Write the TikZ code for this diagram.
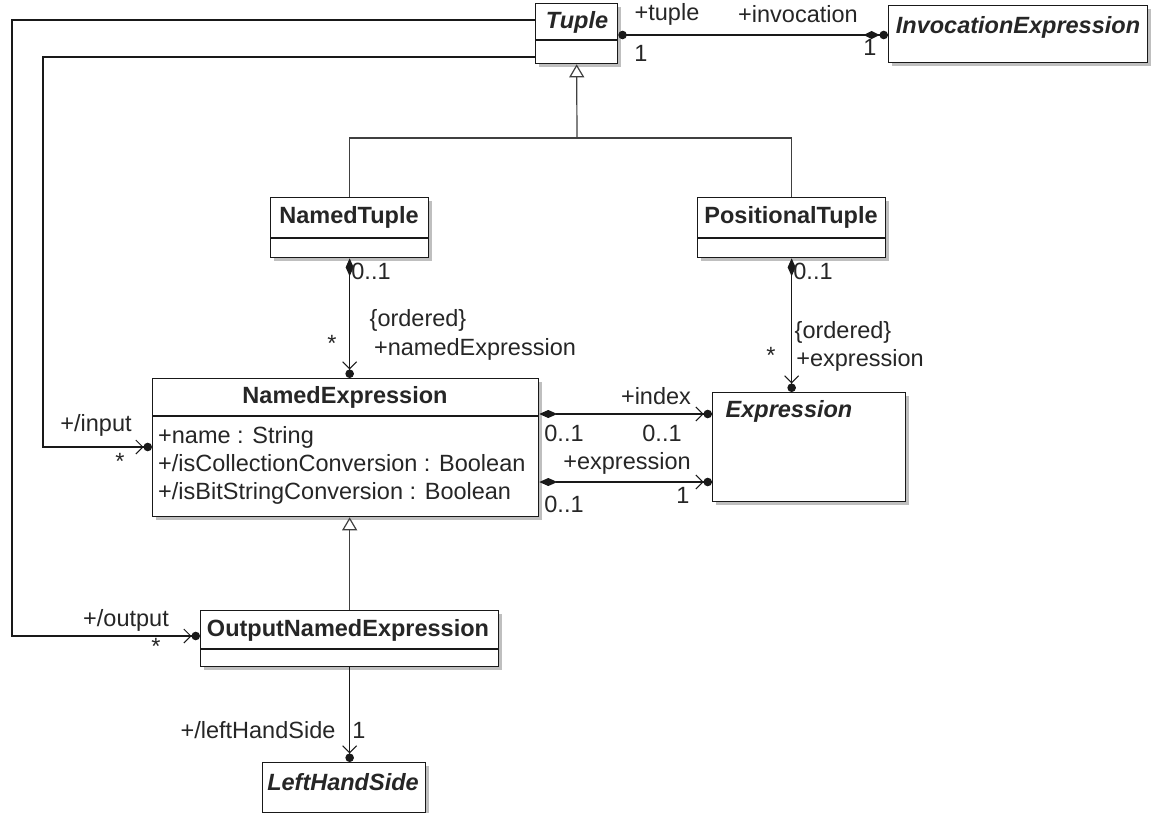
\documentclass[tikz,border=0pt]{standalone}
\usepackage{fontspec}
\setmainfont{Liberation Sans}
\usetikzlibrary{arrows.meta,shadows,calc}
\begin{document}
\begin{tikzpicture}[x=1pt,y=-1pt,
  every node/.style={font=\fontsize{23.5}{27}\selectfont, inner sep=0pt, text=black!85},
  cls/.style={draw=black!90, line width=1.3pt, fill=white, anchor=north west, inner sep=0pt,
    drop shadow={shadow xshift=3pt, shadow yshift=-3pt, fill=black!25, opacity=1}},
  ttl/.style={font=\fontsize{23.5}{27}\selectfont\bfseries},
  ittl/.style={font=\fontsize{23.5}{27}\selectfont\bfseries\itshape},
  divider/.style={draw=black!90, line width=1.3pt},
  assoc/.style={draw=black!90, line width=1.3pt},
  genl/.style={draw=black!75, line width=1.2pt},
  ownend/.style={-{Straight Barb[length=7pt,width=14pt,line width=1pt] Circle[length=8.5pt]}},
  compown/.style={{Diamond[length=18pt,width=8pt]}-{Straight Barb[length=7pt,width=14pt,line width=1pt] Circle[length=8.5pt]}},
  genarrow/.style={-{Triangle[open,length=13pt,width=15pt,fill=white,line width=1.2pt]}}
]
\useasboundingbox (0,0) rectangle (1151,813);
\fill[white] (0,0) rectangle (1151,813);

% ---------- classes ----------
\node[cls, minimum width=82pt, minimum height=60pt] (tuple) at (535,3) {};
\draw[divider] (535,40) -- (617,40);
\node[ittl] (tupleT) at (577,22) {Tuple};

\node[cls, minimum width=259pt, minimum height=57pt] (inv) at (888,5) {};
\node[ittl] (invT) at (1018,27) {InvocationExpression};

\node[cls, minimum width=158pt, minimum height=60pt] (nt) at (270,197) {};
\draw[divider] (270,238) -- (428,238);
\node[ttl] (ntT) at (349,217) {NamedTuple};

\node[cls, minimum width=188pt, minimum height=60pt] (pt) at (697,197) {};
\draw[divider] (697,238) -- (885,238);
\node[ttl] (ptT) at (791,217) {PositionalTuple};

\node[cls, minimum width=386pt, minimum height=138pt] (ne) at (152,378) {};
\draw[divider] (152,416) -- (538,416);
\node[ttl] (neT) at (345,397) {NamedExpression};
\node[anchor=base west] (a1) at (158,443) {+name : String};
\node[anchor=base west] (a2) at (158,471) {+/isCollectionConversion : Boolean};
\node[anchor=base west] (a3) at (158,499) {+/isBitStringConversion : Boolean};

\node[cls, minimum width=193pt, minimum height=109pt] (expr) at (712,392) {};
\node[ittl] (exprT) at (789,411) {Expression};

\node[cls, minimum width=298pt, minimum height=56pt] (one) at (200,610) {};
\draw[divider] (200,649) -- (498,649);
\node[ttl] (oneT) at (348,630) {OutputNamedExpression};

\node[cls, minimum width=163pt, minimum height=50pt] (lhs) at (262,762) {};
\node[ittl] (lhsT) at (343,782) {LeftHandSide};

% ---------- generalizations ----------
\coordinate (gj) at (577,138);
\draw[genl] (nt.north) |- (gj) -| (pt.north);
\draw[genl, genarrow] (gj) -- (tuple.south);
\draw[genl, genarrow] (one.north) -- (one.north |- ne.south);

% ---------- associations ----------
\draw[assoc, {Circle[length=8.5pt]}-{Diamond[length=16pt,width=8pt] Circle[length=8.5pt]}] (tuple.east |- 0,35) -- (inv.west |- 0,35);
\node (l1) at (667,14) {+tuple};
\node (l2) at (641,53) {1};
\node (l3) at (798,14) {+invocation};
\node (l4) at (870,47) {1};

\draw[assoc, compown] (nt.south) -- (nt.south |- ne.north);
\node (l5) at (371,271) {0..1};
\node (l6) at (418,320) {\{ordered\}};
\node (l7) at (475,349) {+namedExpression};
\node (l8) at (332,343) {*};

\draw[assoc, compown] (pt.south) -- (pt.south |- expr.north);
\node (l9) at (813,271) {0..1};
\node (l10) at (843,332) {\{ordered\}};
\node (l11) at (860,360) {+expression};
\node (l12) at (771,355) {*};

\draw[assoc, compown] (ne.east |- 0,414) -- (expr.west |- 0,414);
\node (l13) at (656,396) {+index};
\node (l14) at (564,433) {0..1};
\node (l15) at (662,433) {0..1};

\draw[assoc, compown] (ne.east |- 0,482) -- (expr.west |- 0,482);
\node (l16) at (627,463) {+expression};
\node (l17) at (564,504) {0..1};
\node (l18) at (683,495) {1};

\coordinate (in1) at (43,57);
\coordinate (in2) at (43,447);
\draw[assoc, ownend] (tuple.west |- 0,57) -- (in1) -- (in2) -- (ne.west |- 0,447);
\node (l19) at (96,425) {+/input};
\node (l20) at (120,461) {*};

\coordinate (out1) at (12,20);
\coordinate (out2) at (12,636);
\draw[assoc, ownend] (tuple.west |- 0,20) -- (out1) -- (out2) -- (one.west |- 0,636);
\node (l21) at (126,620) {+/output};
\node (l22) at (156,646) {*};

\draw[assoc, ownend] (one.south) -- (one.south |- lhs.north);
\node (l23) at (258,730) {+/leftHandSide};
\node (l24) at (359,730) {1};
\end{tikzpicture}
\end{document}
